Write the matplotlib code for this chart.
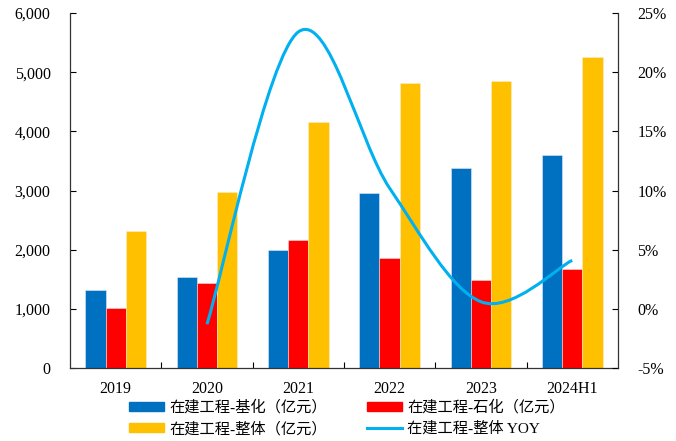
import matplotlib
matplotlib.use("Agg")
import matplotlib.pyplot as plt
import numpy as np
from matplotlib.path import Path
from matplotlib.patches import PathPatch
from matplotlib.lines import Line2D
from matplotlib.patches import Patch
from matplotlib.ticker import FuncFormatter, FixedLocator

plt.rcParams["font.family"] = ["Liberation Serif", "Noto Sans CJK SC"]

# 数据
categories = ["2019", "2020", "2021", "2022", "2023", "2024H1"]
jihua = [1318, 1543, 1994, 2952, 3375, 3600]      # 在建工程-基化（亿元）
shihua = [1009, 1431, 2163, 1864, 1487, 1668]     # 在建工程-石化（亿元）
zhengti = [2321, 2980, 4152, 4822, 4856, 5262]    # 在建工程-整体（亿元）
yoy_cats = ["2020", "2021", "2022", "2023", "2024H1"]
yoy = [-1.3, 23.4, 10.2, 0.6, 4.1]                # 在建工程-整体 YOY (%)

C_BLUE = "#0070C0"
C_RED = "#FF0000"
C_YEL = "#FFC000"
C_LINE = "#00B0F0"


def smooth_path(xs, ys):
    """Excel 风格平滑曲线：Catmull-Rom 转三次贝塞尔。"""
    pts = np.column_stack([xs, ys]).astype(float)
    n = len(pts)
    verts = [pts[0]]
    codes = [Path.MOVETO]
    for i in range(n - 1):
        p0 = pts[i - 1] if i > 0 else pts[i]
        p1, p2 = pts[i], pts[i + 1]
        p3 = pts[i + 2] if i + 2 < n else pts[i + 1]
        c1 = p1 + (p2 - p0) / 6
        c2 = p2 - (p3 - p1) / 6
        verts += [c1, c2, p2]
        codes += [Path.CURVE4] * 3
    return Path(verts, codes)


fig = plt.figure(figsize=(6.76, 4.41), dpi=100)
ax = fig.add_axes([0.1036, 0.1655, 0.8104, 0.805])
x = np.arange(len(categories))
w = 0.222
ax.bar(x - w, jihua, w, color=C_BLUE, edgecolor="#dfe8f5", linewidth=0.4)
ax.bar(x, shihua, w, color=C_RED, edgecolor="#f5dede", linewidth=0.4)
ax.bar(x + w, zhengti, w, color=C_YEL, edgecolor="#fbeecb", linewidth=0.4)

ax.set_xlim(-0.5, len(categories) - 0.5)
ax.set_ylim(0, 6000)
ax.set_yticks(np.arange(0, 6001, 1000))
ax.yaxis.set_major_formatter(FuncFormatter(lambda v, p: f"{int(v):,}"))
ax.set_xticks(x)
ax.set_xticklabels(categories)
ax.xaxis.set_minor_locator(FixedLocator(np.arange(0.5, len(categories) - 1, 1)))
ax.tick_params(axis="x", which="major", length=0, pad=9, labelsize=11.5)
ax.tick_params(axis="x", which="minor", direction="in", length=4, width=0.8)
ax.tick_params(axis="y", direction="in", length=4, width=0.8, labelsize=11.5, pad=14)
ax.spines["top"].set_visible(False)
ax.spines["right"].set_visible(False)
for s in ["left", "bottom"]:
    ax.spines[s].set_linewidth(0.9)
    ax.spines[s].set_color("#333333")

ax2 = ax.twinx()
ax2.set_ylim(-5, 25)
ax2.set_yticks(np.arange(-5, 26, 5))
ax2.yaxis.set_major_formatter(FuncFormatter(lambda v, p: f"{int(v)}%"))
ax2.tick_params(axis="y", direction="in", length=4, width=0.8, labelsize=11.5, pad=14)
ax2.spines["top"].set_visible(False)
ax2.spines["left"].set_visible(False)
ax2.spines["bottom"].set_visible(False)
ax2.spines["right"].set_linewidth(0.9)
ax2.spines["right"].set_color("#333333")

yx = [categories.index(c) for c in yoy_cats]
ax2.add_patch(PathPatch(smooth_path(yx, yoy), facecolor="none",
                        edgecolor=C_LINE, linewidth=2.2, capstyle="butt"))

handles = [Patch(color=C_BLUE), Patch(color=C_RED), Patch(color=C_YEL),
           Line2D([], [], color=C_LINE, lw=2.2)]
labels = ["在建工程-基化（亿元）", "在建工程-石化（亿元）",
          "在建工程-整体（亿元）", "在建工程-整体 YOY"]
# 顺序：第一行 基化 / 石化，第二行 整体 / YOY
leg = fig.legend([handles[0], handles[2], handles[1], handles[3]],
                 [labels[0], labels[2], labels[1], labels[3]],
                 ncol=2, loc="center", bbox_to_anchor=(0.513, 0.052),
                 frameon=False, fontsize=11, handlelength=2.3, handleheight=0.55,
                 columnspacing=2.6, handletextpad=0.35, labelspacing=0.45)

fig.savefig("out.png", dpi=100)
